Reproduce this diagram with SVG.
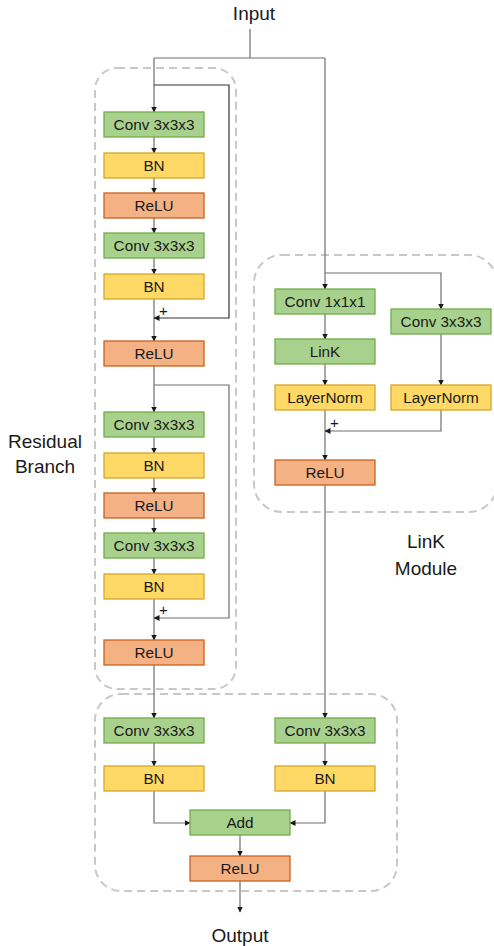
<svg xmlns="http://www.w3.org/2000/svg" width="494" height="946" viewBox="0 0 494 946">
  <style>
    .grp { fill: none; stroke: #c8c8c8; stroke-width: 2; stroke-dasharray: 8 5; }
    .box rect { stroke-width: 1.3; }
    .conv rect { fill: #a9d18e; stroke: #70ad47; }
    .bn rect { fill: #ffd966; stroke: #d4a72c; }
    .relu rect { fill: #f4b183; stroke: #c9621c; }
    .box text { font-family: "Liberation Sans", Arial, sans-serif; font-size: 15.3px; fill: #1a1a1a; text-anchor: middle; }
    .label { font-family: "Liberation Sans", Arial, sans-serif; font-size: 19px; fill: #1a1a1a; text-anchor: middle; }
    .plus { font-family: "Liberation Sans", Arial, sans-serif; font-size: 15px; fill: #1a1a1a; }
    #connectors path { fill: none; stroke: #6e6e6e; stroke-width: 1.2; }
    #connectors path.dark { stroke: #333; }
    #connectors path.arr { marker-end: url(#ah); }
  </style>
  <defs>
    <marker id="ah" markerUnits="userSpaceOnUse" markerWidth="6" markerHeight="6" refX="5.5" refY="3" orient="auto">
      <path d="M0,0 L6,3 L0,6 z" fill="#1a1a1a"/>
    </marker>
  </defs>
  <rect width="494" height="946" fill="#ffffff"/>

  <!-- dashed grouping frames -->
  <g id="frames">
    <rect class="grp" x="95" y="68" width="141" height="621" rx="22"/>
    <rect class="grp" x="254" y="255" width="243" height="257" rx="28"/>
    <rect class="grp" x="95" y="694" width="302" height="197" rx="26"/>
  </g>

  <!-- outer labels -->
  <text class="label" x="254" y="20">Input</text>
  <text class="label" x="240" y="942">Output</text>
  <text class="label" x="45" y="448">Residual</text>
  <text class="label" x="45" y="473">Branch</text>
  <text class="label" x="426" y="548">LinK</text>
  <text class="label" x="426" y="575">Module</text>

  <!-- connectors -->
  <g id="connectors">
    <path d="M250,29 V58"/>
    <path d="M154,58 H325"/>
    <path class="arr" d="M154,58 V112"/>
    <path class="arr" d="M325,58 V289"/>
    <!-- residual block 1 -->
    <path class="arr" d="M154,137 V153"/>
    <path class="arr" d="M154,178 V193"/>
    <path class="arr" d="M154,218 V233"/>
    <path class="arr" d="M154,258 V274"/>
    <path class="arr" d="M154,299 V341"/>
    <path class="arr dark" d="M154,85 H229 V318 H154"/>
    <path class="arr" d="M154,366 V412"/>
    <!-- residual block 2 -->
    <path class="arr" d="M154,437 V453"/>
    <path class="arr" d="M154,478 V493"/>
    <path class="arr" d="M154,518 V533"/>
    <path class="arr" d="M154,558 V574"/>
    <path class="arr" d="M154,599 V640"/>
    <path class="arr" d="M154,385 H229 V618 H154"/>
    <path class="arr" d="M154,665 V718"/>
    <!-- LinK module -->
    <path class="arr" d="M325,314 V339"/>
    <path class="arr" d="M325,364 V385"/>
    <path class="arr" d="M325,410 V460"/>
    <path class="arr" d="M325,273 H441 V309"/>
    <path class="arr" d="M441,334 V385"/>
    <path class="arr" d="M441,410 V431 H325"/>
    <path class="arr" d="M325,485 V718"/>
    <!-- fusion -->
    <path class="arr" d="M154,743 V766"/>
    <path class="arr" d="M325,743 V766"/>
    <path class="arr" d="M154,791 V823 H190"/>
    <path class="arr" d="M325,791 V823 H290"/>
    <path class="arr" d="M240,835 V856"/>
    <path class="arr" d="M240,881 V912"/>
  </g>

  <text class="plus" x="159" y="316">+</text>
  <text class="plus" x="159" y="615">+</text>
  <text class="plus" x="330" y="428">+</text>

  <!-- residual branch, block 1 -->
  <g id="rb1-conv1" class="box conv"><rect x="104" y="112" width="100" height="25"/><text x="154" y="130">Conv 3x3x3</text></g>
  <g id="rb1-bn1" class="box bn"><rect x="104" y="153" width="100" height="25"/><text x="154" y="171">BN</text></g>
  <g id="rb1-relu1" class="box relu"><rect x="104" y="193" width="100" height="25"/><text x="154" y="211">ReLU</text></g>
  <g id="rb1-conv2" class="box conv"><rect x="104" y="233" width="100" height="25"/><text x="154" y="251">Conv 3x3x3</text></g>
  <g id="rb1-bn2" class="box bn"><rect x="104" y="274" width="100" height="25"/><text x="154" y="292">BN</text></g>
  <g id="rb1-relu2" class="box relu"><rect x="104" y="341" width="100" height="25"/><text x="154" y="359">ReLU</text></g>

  <!-- residual branch, block 2 -->
  <g id="rb2-conv1" class="box conv"><rect x="104" y="412" width="100" height="25"/><text x="154" y="430">Conv 3x3x3</text></g>
  <g id="rb2-bn1" class="box bn"><rect x="104" y="453" width="100" height="25"/><text x="154" y="471">BN</text></g>
  <g id="rb2-relu1" class="box relu"><rect x="104" y="493" width="100" height="25"/><text x="154" y="511">ReLU</text></g>
  <g id="rb2-conv2" class="box conv"><rect x="104" y="533" width="100" height="25"/><text x="154" y="551">Conv 3x3x3</text></g>
  <g id="rb2-bn2" class="box bn"><rect x="104" y="574" width="100" height="25"/><text x="154" y="592">BN</text></g>
  <g id="rb2-relu2" class="box relu"><rect x="104" y="640" width="100" height="25"/><text x="154" y="658">ReLU</text></g>

  <!-- LinK module -->
  <g id="lk-conv1" class="box conv"><rect x="275" y="289" width="100" height="25"/><text x="325" y="307">Conv 1x1x1</text></g>
  <g id="lk-link" class="box conv"><rect x="275" y="339" width="100" height="25"/><text x="325" y="357">LinK</text></g>
  <g id="lk-ln1" class="box bn"><rect x="275" y="385" width="100" height="25"/><text x="325" y="403">LayerNorm</text></g>
  <g id="lk-conv3" class="box conv"><rect x="391" y="309" width="100" height="25"/><text x="441" y="327">Conv 3x3x3</text></g>
  <g id="lk-ln2" class="box bn"><rect x="391" y="385" width="100" height="25"/><text x="441" y="403">LayerNorm</text></g>
  <g id="lk-relu" class="box relu"><rect x="275" y="460" width="100" height="25"/><text x="325" y="478">ReLU</text></g>

  <!-- fusion -->
  <g id="fu-conv-l" class="box conv"><rect x="104" y="718" width="100" height="25"/><text x="154" y="736">Conv 3x3x3</text></g>
  <g id="fu-bn-l" class="box bn"><rect x="104" y="766" width="100" height="25"/><text x="154" y="784">BN</text></g>
  <g id="fu-conv-r" class="box conv"><rect x="275" y="718" width="100" height="25"/><text x="325" y="736">Conv 3x3x3</text></g>
  <g id="fu-bn-r" class="box bn"><rect x="275" y="766" width="100" height="25"/><text x="325" y="784">BN</text></g>
  <g id="fu-add" class="box conv"><rect x="190" y="810" width="100" height="25"/><text x="240" y="828">Add</text></g>
  <g id="fu-relu" class="box relu"><rect x="190" y="856" width="100" height="25"/><text x="240" y="874">ReLU</text></g>
</svg>
